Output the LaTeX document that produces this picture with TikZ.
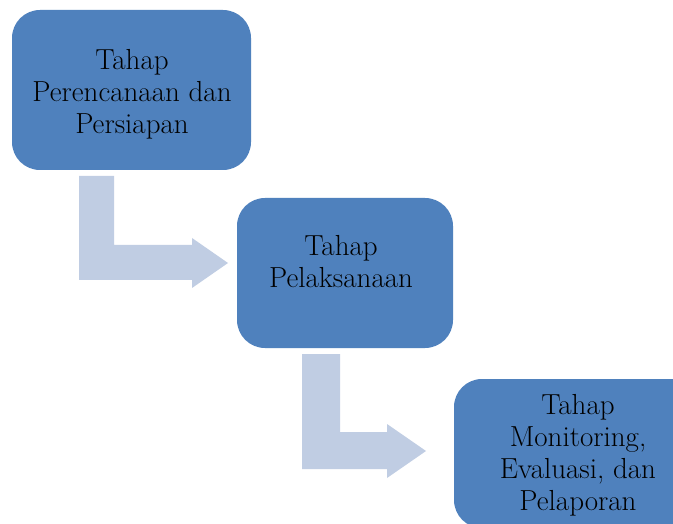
\documentclass[tikz,border=0pt]{standalone}
\definecolor{boxblue}{HTML}{4F81BD}
\definecolor{arrowblue}{HTML}{C0CDE3}
\begin{document}
\begin{tikzpicture}[x=1pt,y=-1pt,
  stagebox/.style={draw=none, fill=boxblue, rounded corners=28pt},
  stagetext/.style={align=center, text=black, inner sep=0pt, font=\fontsize{29}{32}\selectfont},
  bentarrow/.style={fill=arrowblue, draw=none}]
\useasboundingbox (0,0) rectangle (673,524);
\clip (0,0) rectangle (673,524);
\fill[white] (0,0) rectangle (673,524);
% boxes
\filldraw[stagebox] (12,10) rectangle (251,170);
\coordinate (b1) at (131.5,90);
\filldraw[stagebox] (237,198) rectangle (453,348);
\coordinate (b2) at (345,273);
\filldraw[stagebox] (454,379) rectangle (700,528);
\coordinate (b3) at (577,453);
% text
\node[stagetext] (t1) at (132,94) {Tahap\\Perencanaan dan\\Persiapan};
\node[stagetext] (t2) at (341,262) {Tahap\\Pelaksanaan};
\node[stagetext] (t3) at (578,455) {Tahap\\Monitoring,\\Evaluasi, dan\\Pelaporan};
% bent arrows
\fill[bentarrow] (79,176) -- (114,176) -- (114,245) -- (192,245) -- (192,238)
  -- (228,263) -- (192,288) -- (192,280) -- (79,280) -- cycle;
\fill[bentarrow] (302,354) -- (340,354) -- (340,432) -- (387,432) -- (387,424)
  -- (426,451) -- (387,478) -- (387,469) -- (302,469) -- cycle;
\end{tikzpicture}
\end{document}
